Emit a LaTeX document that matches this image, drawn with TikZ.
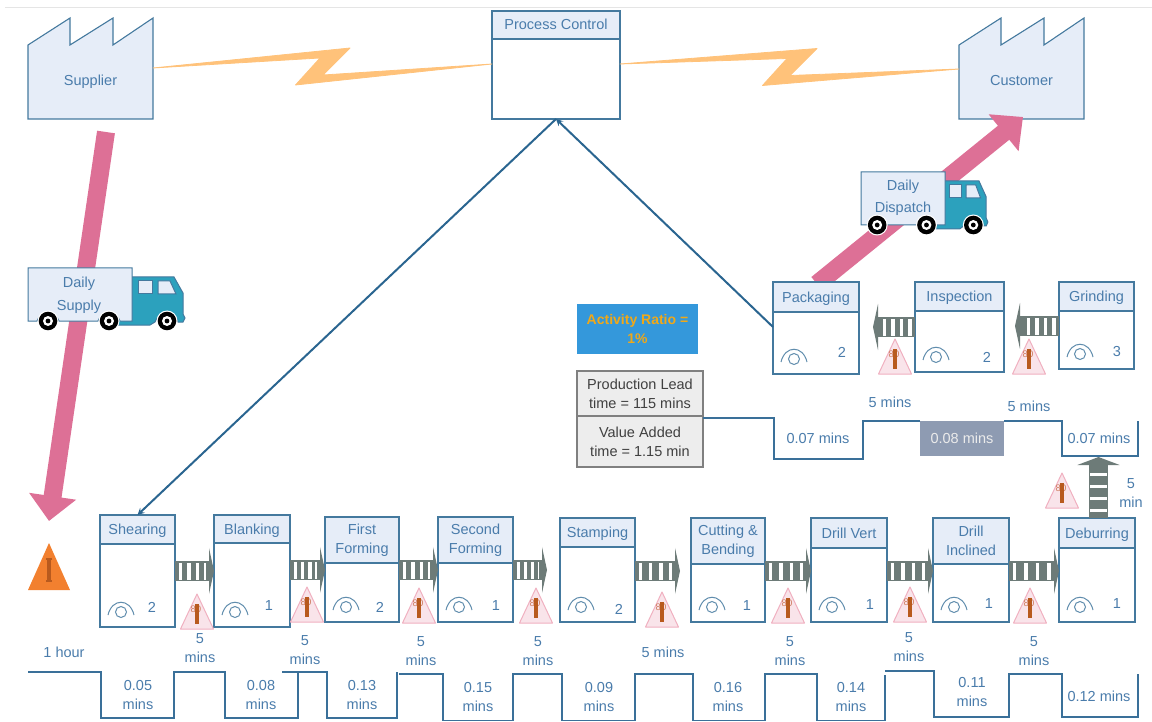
\documentclass[tikz,border=0pt]{standalone}
\usepackage{xcolor}
\usepackage{fontspec}
\setmainfont{Liberation Sans}
\usepackage{tikz}
\usetikzlibrary{arrows, arrows.meta, calc}

\definecolor{boxfill}{HTML}{E6EDF8}
\definecolor{boxline}{HTML}{44799E}
\definecolor{timeline}{HTML}{3A7099}
\definecolor{infoline}{HTML}{2A6590}
\definecolor{labelblue}{HTML}{4A7CAB}
\definecolor{zigzag}{HTML}{FFC27A}
\definecolor{shipping}{HTML}{DD7096}
\definecolor{pushgray}{HTML}{6D7B78}
\definecolor{cabteal}{HTML}{2CA1BD}
\definecolor{stockpink}{HTML}{F9E4EA}
\definecolor{stockedge}{HTML}{F0B0C0}
\definecolor{stockbar}{HTML}{B85A1E}
\definecolor{rawstock}{HTML}{F2802F}
\definecolor{ratiofill}{HTML}{3498DB}
\definecolor{ratiotext}{HTML}{F0A818}
\definecolor{slotgray}{HTML}{8E9BB2}

\tikzset{
    every node/.style={font=\fontsize{14.5}{19}\selectfont, text=labelblue, align=center, inner sep=0pt, outer sep=0pt},
    prochead/.style={rectangle, draw=boxline, fill=boxfill, line width=1.2pt},
    procbody/.style={rectangle, draw=boxline, fill=white, line width=1.2pt},
    factory/.style={draw=boxline, fill=boxfill, line width=1.1pt, line join=miter},
    arrow/.style={->, >=stealth, draw=infoline, line width=2pt},
    shipline/.style={draw=shipping, line width=18pt, -{Triangle[width=46pt,length=25pt]}},
    pushbar/.style={draw=pushgray, line width=20pt, -{Triangle[width=46pt,length=5pt]}},
    pushstripe/.style={draw=white, line width=17pt, dash pattern=on 3.5pt off #1pt},
    timepath/.style={draw=timeline, line width=1.3pt},
    sumbox/.style={rectangle, draw=black!50, fill=black!7, line width=1.2pt, minimum width=126pt, text=black!75},
    opicon/.pic={
        \draw[boxline!85, line width=1pt] (0,0) circle[radius=5.5pt];
        \draw[boxline!85, line width=1pt] (-13,3) .. controls (-9,-14) and (9,-14) .. (13,3);
    },
    invtri/.pic={
        \draw[fill=stockpink, draw=stockedge, line width=1pt, line join=round] (-16.5,0) -- (0,-35) -- (16.5,0) -- cycle;
        \node[font=\fontsize{9.5}{10}\selectfont, text=stockbar!60!stockedge] (-tag) at (-1,-20) {80};
        \draw[stockbar, line width=3.5pt] (0,-25) -- (0,-5);
    },
    wheelpic/.pic={
        \fill[white] (0,0) circle[radius=10.5pt];
        \fill[black] (0,0) circle[radius=9.3pt];
        \fill[white] (0,0) circle[radius=5pt];
        \fill[black] (0,0) circle[radius=2.4pt];
    }
}

% one line titles sit on the same baseline, with or without descenders
\newcommand{\oneline}[1]{\raisebox{0pt}[10.5pt][0.5pt]{#1}}

% name, left, right, top, header bottom, bottom, title, operators, position of the count
\newcommand{\procbox}[9]{
    \node[procbody, minimum width={(#3-#2)*1pt}, minimum height={(#6-#5)*1pt}] (#1-body) at ({(#2+#3)/2},{(#5+#6)/2}) {};
    \node[prochead, minimum width={(#3-#2)*1pt}, minimum height={(#5-#4)*1pt}] (#1) at ({(#2+#3)/2},{(#4+#5)/2}) {#7};
    \pic at ({#2+21},{#6-15}) {opicon};
    \node (#1-count) at #9 {#8};
}

% left, top, horizontal scale of the truck
\newcommand{\drawtruck}[3]{
    \begin{scope}[shift={(#1,#2)}, xscale=#3]
        \draw[fill=cabteal, draw=boxline, line width=1pt] (100,9) -- (146,9) -- (155,25) -- (155,46) -- (157,50) -- (155,54) -- (150,54)
            .. controls (148,44) and (130,44) .. (127,54) -- (122,57) -- (88,57) -- (88,45) -- cycle;
        \draw[fill=boxfill, draw=boxline, line width=1pt] (110,13) rectangle (124,26);
        \draw[fill=boxfill, draw=boxline, line width=1pt] (130,13) -- (142,13) -- (148,26) -- (130,26) -- cycle;
        \draw[fill=boxfill, draw=boxline, line width=1pt] (0,0) -- (104,0) -- (104,53) -- (92,53)
            .. controls (89,43) and (73,43) .. (70,53) -- (31,53)
            .. controls (28,43) and (12,43) .. (9,53) -- (0,53) -- cycle;
    \end{scope}
    \pic at ({#1+#3*20},{#2+53}) {wheelpic};
    \pic at ({#1+#3*81},{#2+53}) {wheelpic};
    \pic at ({#1+#3*139},{#2+53}) {wheelpic};
}

% from, to, gap between the stripes
\newcommand{\pushflow}[3]{
    \draw[pushbar] #1 -- #2;
    \draw[pushstripe=#3, shorten <=3.5pt, shorten >=8.5pt] #1 -- #2;
}

% from, to: the lightning bolt of an electronic link
\newcommand{\boltlink}[2]{
    \filldraw[fill=zigzag, draw=zigzag, line width=0.8pt, line join=round] (#1) -- ($($(#1)!.5!(#2)$)+(27.5,-18)$) -- ($($(#1)!.5!(#2)$)+(0.5,9)$) -- (#2)
        -- ($($(#1)!.5!(#2)$)+(-27,19)$) -- ($($(#1)!.5!(#2)$)+(-2.5,-8)$) -- cycle;
}

\begin{document}
\begin{tikzpicture}[x=1pt, y=-1pt]
    \useasboundingbox (0,0) rectangle (1152,722);
    \draw[black!10, line width=1pt] (5,8) -- (1152,8);

    % Supplier and customer at the top
    \draw[factory] (28,45) -- (70,18) -- (70,45) -- (113,18) -- (113,45) -- (153,18) -- (153,119) -- (28,119) -- cycle;
    \draw[factory] (959,45) -- (1001,18) -- (1001,45) -- (1044,18) -- (1044,45) -- (1084,18) -- (1084,119) -- (959,119) -- cycle;
    \node[minimum width=125pt, minimum height=78pt] (supplier) at (90.5,81.5) {Supplier};
    \node[minimum width=125pt, minimum height=78pt] (customer) at (1021.5,80.5) {Customer};

    % Process control
    \node[procbody, minimum width=128pt, minimum height=80pt] (control-body) at (556,79) {};
    \node[prochead, minimum width=128pt, minimum height=28pt] (control) at (556,25) {\oneline{Process Control}};
    \coordinate (supout) at ([yshift=13.5pt]supplier.east);
    \coordinate (ctrlin) at ([yshift=15pt]control-body.west);
    \coordinate (ctrlout) at ([yshift=15pt]control-body.east);
    \coordinate (custin) at ([yshift=11.5pt]customer.west);
    \boltlink{supout}{ctrlin}
    \boltlink{ctrlout}{custin}

    % Shipments, the trucks sit on top of them
    \coordinate (supplystart) at (106,132);
    \coordinate (supplyend) at (49,521);
    \coordinate (dispatchstart) at (817,284);
    \coordinate (dispatchend) at (1023,117);
    \draw[shipline] (supplystart) -- (supplyend);
    \draw[shipline] (dispatchstart) -- (dispatchend);
    \drawtruck{28}{268}{1}
    \drawtruck{861}{172}{0.808}
    \node[font=\fontsize{14.5}{23}\selectfont] (dailysupply) at (79,295.5) {Daily\\Supply};
    \node[font=\fontsize{14.5}{22}\selectfont] (dailydispatch) at (903,197.5) {Daily\\Dispatch};

    % Process boxes, lower row
    \procbox{shearing}{100}{175}{515}{544}{627}{\oneline{Shearing}}{2}{(152,607)}
    \procbox{blanking}{214}{290}{515}{543}{627}{\oneline{Blanking}}{1}{(269,606)}
    \procbox{firstform}{325}{399}{517}{563}{622}{First\\Forming}{2}{(380,607)}
    \procbox{secondform}{438}{513}{517}{563}{622}{Second\\Forming}{1}{(496,606)}
    \procbox{stamping}{560}{635}{518}{547}{622}{\oneline{Stamping}}{2}{(619,609)}
    \procbox{cutting}{691}{765}{518}{564}{622}{Cutting \&\\Bending}{1}{(747,606)}
    \procbox{drillvert}{811}{887}{518}{548}{622}{\oneline{Drill Vert}}{1}{(870,605)}
    \procbox{drillinc}{933}{1009}{518}{564}{622}{Drill\\Inclined}{1}{(989,604)}
    \procbox{deburring}{1059}{1135}{518}{548}{622}{\oneline{Deburring}}{1}{(1117,604)}

    % Process boxes, upper row
    \procbox{packaging}{773}{859}{282}{312}{374}{\oneline{Packaging}}{2}{(842,352)}
    \procbox{inspection}{915}{1004}{282}{311}{372}{\oneline{Inspection}}{2}{(987,357)}
    \procbox{grinding}{1059}{1134}{282}{311}{369}{\oneline{Grinding}}{3}{(1117,352)}

    % Information lines from process control
    \coordinate (packout) at ([yshift=16pt]packaging-body.west);
    \draw[arrow] (control-body.south) -- (shearing.north);
    \draw[arrow] (packout) -- (control-body.south);

    % Push arrows between the processes
    \coordinate (rowa) at (0,571);
    \coordinate (rowb) at (0,570);
    \coordinate (rowc) at (0,327);
    \coordinate (rowd) at (0,326);
    \coordinate (pushd) at (547,570);
    \coordinate (pushe) at (680,571);
    \coordinate (pushtop) at (1098.5,457);
    \coordinate (pushleft) at (873,327);
    \coordinate (pushright) at (1015,326);
    \pushflow{(shearing-body.east |- rowa)}{(blanking-body.west |- rowa)}{5}
    \pushflow{(blanking-body.east |- rowb)}{(firstform-body.west |- rowb)}{3.8}
    \pushflow{(firstform-body.east |- rowb)}{(secondform-body.west |- rowb)}{5}
    \pushflow{(secondform-body.east |- rowb)}{(pushd)}{3.5}
    \pushflow{(stamping-body.east |- rowa)}{(pushe)}{6.8}
    \pushflow{(cutting-body.east |- rowa)}{(drillvert-body.west |- rowa)}{7}
    \pushflow{(drillvert-body.east |- rowa)}{(drillinc-body.west |- rowa)}{7}
    \pushflow{(drillinc-body.east |- rowa)}{(deburring-body.west |- rowa)}{8}
    \pushflow{(inspection-body.west |- rowc)}{(pushleft)}{5}
    \pushflow{(grinding-body.west |- rowd)}{(pushright)}{5}
    \draw[draw=pushgray, line width=19pt, -{Triangle[width=42pt,length=8pt]}] (deburring.north -| pushtop) -- (pushtop);
    \draw[pushstripe=8.5, shorten <=6pt, shorten >=10pt] (deburring.north -| pushtop) -- (pushtop);

    % Inventory triangles
    \fill[rawstock] (28,590) -- (49,543) -- (70,590) -- cycle;
    \draw[stockbar, line width=3.5pt] (49,559) -- (49,581);
    \draw[stockbar, line width=1.2pt] (46,559) -- (52,559) (46,581) -- (52,581);
    \pic (inva) at (197,629) {invtri};
    \pic (invb) at (307,622) {invtri};
    \pic (invc) at (419,623) {invtri};
    \pic (invd) at (536,623) {invtri};
    \pic (inve) at (662,627) {invtri};
    \pic (invf) at (788,623) {invtri};
    \pic (invg) at (910,622) {invtri};
    \pic (invh) at (1030,623) {invtri};
    \pic (invi) at (1062,508) {invtri};
    \pic (invj) at (895,374) {invtri};
    \pic (invk) at (1029,374) {invtri};

    % Waiting times above the lower line
    \node (waita) at (64,652) {1 hour};
    \node (waitb) at (200,648) {5\\mins};
    \node (waitc) at (305,650) {5\\mins};
    \node (waitd) at (421,651) {5\\mins};
    \node (waite) at (538,651) {5\\mins};
    \node (waitf) at (663,652) {5 mins};
    \node (waitg) at (790,651) {5\\mins};
    \node (waith) at (909,647.5) {5\\mins};
    \node (waiti) at (1034,651) {5\\mins};
    \node (waitj) at (1131,493) {5\\min};
    \node (waitk) at (890,402) {5 mins};
    \node (waitl) at (1029,406) {5 mins};

    % Lower time line
    \draw[timepath] (28,672) -- (101,672) -- (101,718) -- (174,718) -- (174,672) -- (225,672) -- (225,718) -- (298,718) -- (298,672);
    \draw[timepath] (282,672) -- (327,672) -- (327,718) -- (397,718) -- (397,672);
    \draw[timepath] (399,674) -- (443,674) -- (443,720.5) -- (513,720.5) -- (513,674) -- (562,674) -- (562,720.5) -- (635,720.5) -- (635,674)
        -- (693,674) -- (693,720.5) -- (765,720.5) -- (765,674) -- (817,674) -- (817,720.5) -- (885,720.5) -- (885,675);
    \draw[timepath] (885,671) -- (934,671) -- (934,717) -- (1009,717) -- (1009,674) -- (1062,674) -- (1062,717) -- (1138,717) -- (1138,674);
    \node (timea) at (138,695) {0.05\\mins};
    \node (timeb) at (261,695) {0.08\\mins};
    \node (timec) at (362,695) {0.13\\mins};
    \node (timed) at (478,697) {0.15\\mins};
    \node (timee) at (599,697) {0.09\\mins};
    \node (timef) at (728,697) {0.16\\mins};
    \node (timeg) at (851,697) {0.14\\mins};
    \node (timeh) at (972,692) {0.11\\mins};
    \node (timei) at (1099,696) {0.12 mins};

    % Activity ratio and summary
    \node[rectangle, fill=ratiofill, minimum width=121pt, minimum height=50pt, font=\fontsize{14}{19}\bfseries\selectfont, text=ratiotext] (ratio) at (637.5,329) {Activity Ratio =\\1\%};
    \node[sumbox, minimum height=45pt] (prodlead) at (640,393.5) {Production Lead\\time = 115 mins};
    \node[sumbox, minimum height=51pt] (valueadded) at (640,441.5) {Value Added\\time = 1.15 min};

    % Upper time line
    \node[rectangle, fill=slotgray, minimum width=84pt, minimum height=35pt, text=black!8] (grayslot) at (962,438.5) {0.08 mins};
    \draw[timepath] ([yshift=-2pt]valueadded.north east) -- (774,418) -- (774,459) -- (863,459) -- (863,421) -- (grayslot.north west);
    \draw[timepath] (grayslot.north east) -- (1062,421) -- (1062,456) -- (1138,456) -- (1138,421);
    \node (timej) at (818,438) {0.07 mins};
    \node (timek) at (1099,438) {0.07 mins};
\end{tikzpicture}
\end{document}
